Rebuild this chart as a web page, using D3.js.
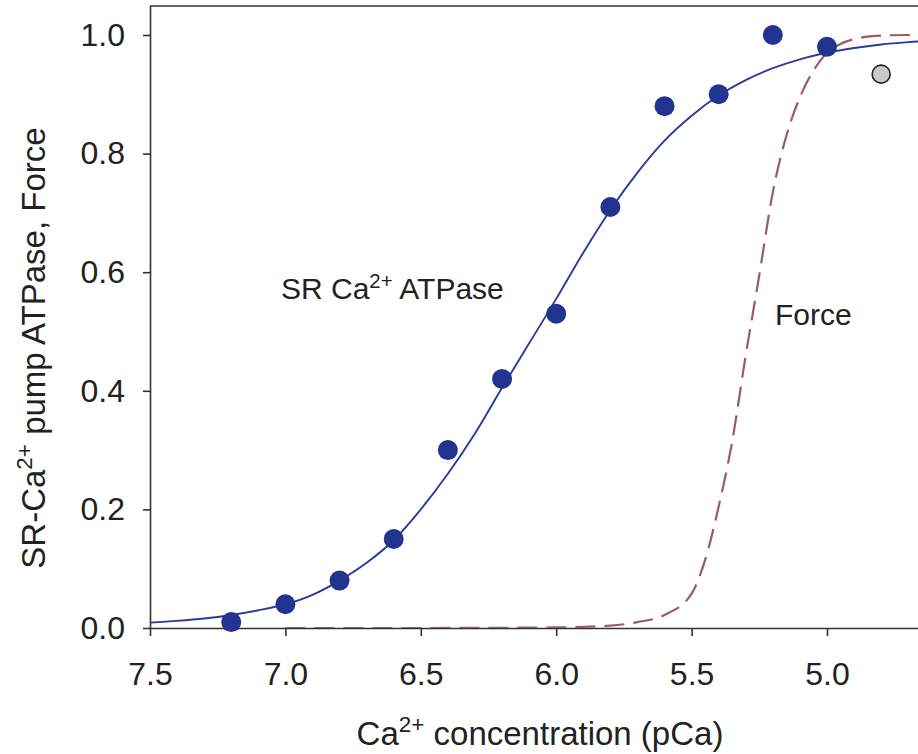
<!DOCTYPE html>
<html>
<head>
<meta charset="utf-8">
<script src="https://cdn.jsdelivr.net/npm/d3@7"></script>
<style>
  body { margin: 0; background: #fff; }
  svg { display: block; font-family: "Liberation Sans", Arial, Helvetica, sans-serif; }
</style>
</head>
<body>
<svg id="chart" width="918" height="754"></svg>
<script>
// measured SR Ca2+ ATPase activity (pCa, relative)
const pumpPCa = [7.2, 7.0, 6.8, 6.6, 6.4, 6.2, 6.0, 5.8, 5.6, 5.4, 5.2, 5.0];
const pumpVal = [0.01, 0.04, 0.08, 0.15, 0.30, 0.42, 0.53, 0.71, 0.88, 0.90, 1.00, 0.98];

// the odd grey point
const greyPCa = [4.8];
const greyVal = [0.934];

// fitted pump curve
const fitPCa = [7.5, 7.4, 7.3, 7.2, 7.1, 7.0, 6.9, 6.8, 6.7, 6.6, 6.5, 6.4, 6.3, 6.2, 6.1,
                6.0, 5.9, 5.8, 5.7, 5.6, 5.5, 5.4, 5.3, 5.2, 5.1, 5.0, 4.9, 4.8, 4.7, 4.6];
const fitVal = [0.009, 0.012, 0.016, 0.022, 0.03, 0.04, 0.056, 0.08, 0.11, 0.148, 0.2, 0.26, 0.328, 0.405, 0.48,
                0.555, 0.633, 0.705, 0.768, 0.822, 0.864, 0.898, 0.924, 0.944, 0.959, 0.97, 0.978, 0.984, 0.988, 0.991];

// force curve (dashed)
const forcePCa = [7.0, 6.5, 6.0, 5.8, 5.7, 5.6, 5.5, 5.45, 5.4, 5.35, 5.3, 5.25, 5.2, 5.15,
                  5.1, 5.05, 5.0, 4.95, 4.9, 4.8, 4.7, 4.6];
const forceVal = [0, 0, 0.001, 0.004, 0.01, 0.022, 0.058, 0.115, 0.205, 0.315, 0.46, 0.595, 0.735, 0.83,
                  0.895, 0.94, 0.97, 0.985, 0.993, 0.999, 1.0, 1.0];

const xTicks = [7.5, 7.0, 6.5, 6.0, 5.5, 5.0];
const yTicks = [0, 0.2, 0.4, 0.6, 0.8, 1.0];

const svg = d3.select('#chart');
const plotLeft = 150, plotBottom = 628, plotTop = 6, plotRight = 918;

const x = d3.scaleLinear().domain([7.5, 5.0]).range([150, 827]);
const y = d3.scaleLinear().domain([0, 1]).range([628, 35]);

svg.append('clipPath').attr('id', 'plot')
    .append('rect').attr('x', plotLeft).attr('y', plotTop)
    .attr('width', plotRight - plotLeft).attr('height', plotBottom - plotTop);

const axisColor = '#333';

// x axis
const gx = svg.append('g')
    .attr('transform', `translate(0,${plotBottom})`)
    .call(d3.axisBottom(x).tickValues(xTicks).tickFormat(d3.format('.1f')).tickSize(8).tickPadding(26).tickSizeOuter(0));
gx.select('.domain').attr('d', `M${plotLeft},0.5H${plotRight}`);

// y axis
const gy = svg.append('g')
    .attr('transform', `translate(${plotLeft},0)`)
    .call(d3.axisLeft(y).tickValues(yTicks).tickFormat(d3.format('.1f')).tickSize(7).tickPadding(18).tickSizeOuter(0));
gy.select('.domain').attr('d', `M0.5,${plotTop}V${plotBottom}`);

svg.selectAll('.tick text').attr('font-size', 32).attr('fill', '#222')
    .attr('font-family', '"Liberation Sans", Arial, sans-serif');
gx.selectAll('.tick text').attr('dy', '0.71em');
svg.selectAll('.domain, .tick line').attr('stroke', axisColor).attr('stroke-width', 1.6);

// top frame line
svg.append('line').attr('x1', plotLeft).attr('x2', plotRight).attr('y1', plotTop).attr('y2', plotTop)
    .attr('stroke', axisColor).attr('stroke-width', 1.6);

const plot = svg.append('g').attr('clip-path', 'url(#plot)');

const line = d3.line().x(d => x(d[0])).y(d => y(d[1])).curve(d3.curveMonotoneX);

plot.append('path')
    .datum(d3.zip(forcePCa, forceVal))
    .attr('d', line)
    .attr('fill', 'none')
    .attr('stroke', '#9b5a6c')
    .attr('stroke-width', 2.2)
    .attr('stroke-dasharray', '20,9');

plot.append('path')
    .datum(d3.zip(fitPCa, fitVal))
    .attr('d', line)
    .attr('fill', 'none')
    .attr('stroke', '#2a3b9c')
    .attr('stroke-width', 1.9);

svg.append('g').selectAll('circle')
    .data(d3.zip(pumpPCa, pumpVal))
    .join('circle')
    .attr('cx', d => x(d[0]))
    .attr('cy', d => y(d[1]))
    .attr('r', 10)
    .attr('fill', '#22348f');

svg.append('g').selectAll('circle')
    .data(d3.zip(greyPCa, greyVal))
    .join('circle')
    .attr('cx', d => x(d[0]))
    .attr('cy', d => y(d[1]))
    .attr('r', 9)
    .attr('fill', '#c9c9c9')
    .attr('stroke', '#222')
    .attr('stroke-width', 1.6);

// labels with superscripts: [before, sup, after]
function supText(sel, before, sup, after, size) {
    const shift = size * 0.38;
    sel.attr('font-size', size);
    sel.append('tspan').text(before);
    sel.append('tspan').attr('font-size', size * 0.68).attr('dy', -shift).text(sup);
    sel.append('tspan').attr('dy', shift).text(after);
}

const ann = svg.append('text').attr('x', 281).attr('y', 299).attr('fill', '#222');
supText(ann, 'SR Ca', '2+', ' ATPase', 30);

svg.append('text').attr('x', 775).attr('y', 325).attr('fill', '#222')
    .attr('font-size', 30).text('Force');

const xt = svg.append('text').attr('x', 540).attr('y', 745).attr('text-anchor', 'middle').attr('fill', '#222');
supText(xt, 'Ca', '2+', ' concentration (pCa)', 33);

const yt = svg.append('text')
    .attr('transform', 'translate(45,348) rotate(-90)')
    .attr('text-anchor', 'middle').attr('fill', '#222');
supText(yt, 'SR-Ca', '2+', ' pump ATPase, Force', 33);
</script>
</body>
</html>
